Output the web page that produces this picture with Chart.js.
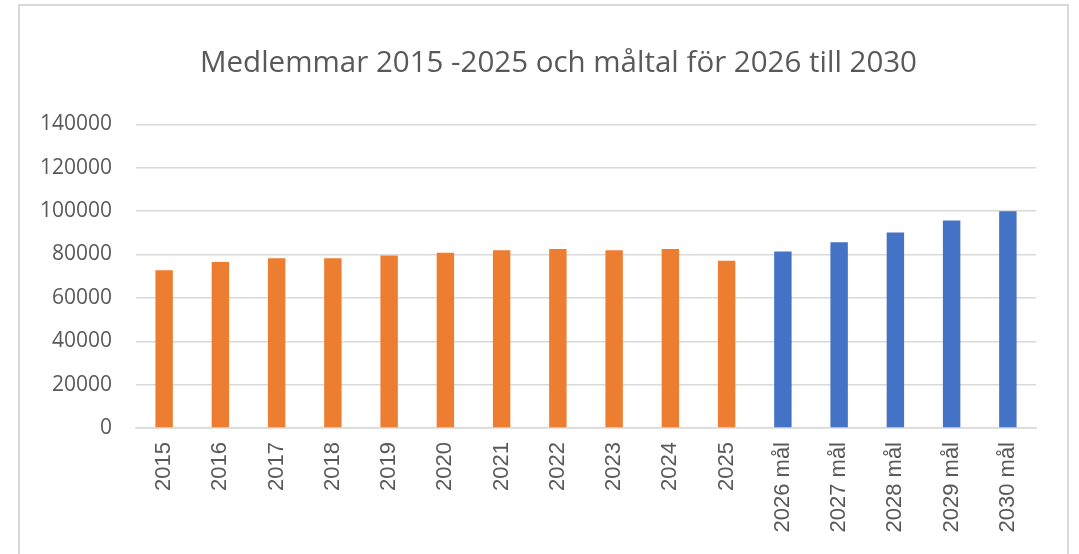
<!DOCTYPE html>
<html>
<head>
<meta charset="utf-8">
<script src="https://cdn.jsdelivr.net/npm/chart.js@4"></script>
<style>
  html, body { margin: 0; padding: 0; background: #fff; }
  #wrap { position: relative; width: 1079px; height: 554px; overflow: hidden; }
  #frame { position: absolute; left: 18px; top: 4px; width: 1047px; height: 600px; border: 2px solid #d9d9d9; }
  #chart { position: absolute; left: 0; top: 0; }
</style>
</head>
<body>
<div id="wrap">
  <div id="frame"></div>
  <canvas id="chart" width="1079" height="554"></canvas>
</div>
<script>
// Kategorier (x-axeln)
const labels = ['2015', '2016', '2017', '2018', '2019', '2020', '2021', '2022', '2023', '2024', '2025',
    '2026 mål', '2027 mål', '2028 mål', '2029 mål', '2030 mål'];

// Medlemmar 2015-2025 (orange)
const medlemmar = [72800, 76500, 78300, 78300, 79600, 80800, 82000, 82600, 82000, 82600, 77100,
    null, null, null, null, null];

// Måltal 2026-2030 (blå)
const maltal = [null, null, null, null, null, null, null, null, null, null, null,
    81400, 85700, 90200, 95700, 100000];

const yTicks = [0, 20000, 40000, 60000, 80000, 100000, 120000, 140000];

const textColor = '#595959';
const gridColor = '#d9d9d9';

// flytta titelns vänsterkant så att den centreras som i originalet
const titleShift = {
    id: 'titleShift',
    afterLayout(chart) {
        if (chart.titleBlock) {
            chart.titleBlock.left = 81;
            chart.titleBlock.width = chart.titleBlock.right - 81;
        }
    }
};

new Chart(document.getElementById('chart'), {
    type: 'bar',
    data: {
        labels: labels,
        datasets: [
            {
                label: 'Medlemmar',
                data: medlemmar,
                backgroundColor: '#ED7D31',
                barPercentage: 0.31,
                categoryPercentage: 1
            },
            {
                label: 'Måltal',
                data: maltal,
                backgroundColor: '#4472C4',
                barPercentage: 0.31,
                categoryPercentage: 1
            }
        ]
    },
    options: {
        responsive: false,
        animation: false,
        layout: { padding: { left: 0, right: 43, top: 0, bottom: 0 } },
        plugins: {
            legend: { display: false },
            tooltip: { enabled: false },
            title: {
                display: true,
                text: 'Medlemmar 2015 -2025 och måltal för 2026 till 2030',
                color: textColor,
                font: { family: 'Open Sans', size: 29.5, weight: 'normal' },
                padding: { top: 46, bottom: 43 }
            }
        },
        scales: {
            x: {
                stacked: true,
                grid: { display: false, drawTicks: false },
                border: { color: gridColor, width: 1.5 },
                ticks: {
                    color: textColor,
                    font: { family: 'Liberation Sans', size: 22 },
                    minRotation: 90,
                    maxRotation: 90,
                    padding: 14
                },
                afterFit: function (scale) { scale.height = 126; }
            },
            y: {
                stacked: true,
                min: 0,
                max: 140000,
                afterBuildTicks: function (scale) {
                    scale.ticks = yTicks.map(v => ({ value: v }));
                },
                grid: { color: gridColor, lineWidth: 1.5, drawTicks: false },
                border: { display: false },
                ticks: {
                    color: textColor,
                    font: { family: 'Open Sans', size: 21 },
                    padding: 24,
                    callback: function (value) { return String(value); }
                },
                afterFit: function (scale) { scale.width = 136; }
            }
        }
    },
    plugins: [titleShift]
});
</script>
</body>
</html>
